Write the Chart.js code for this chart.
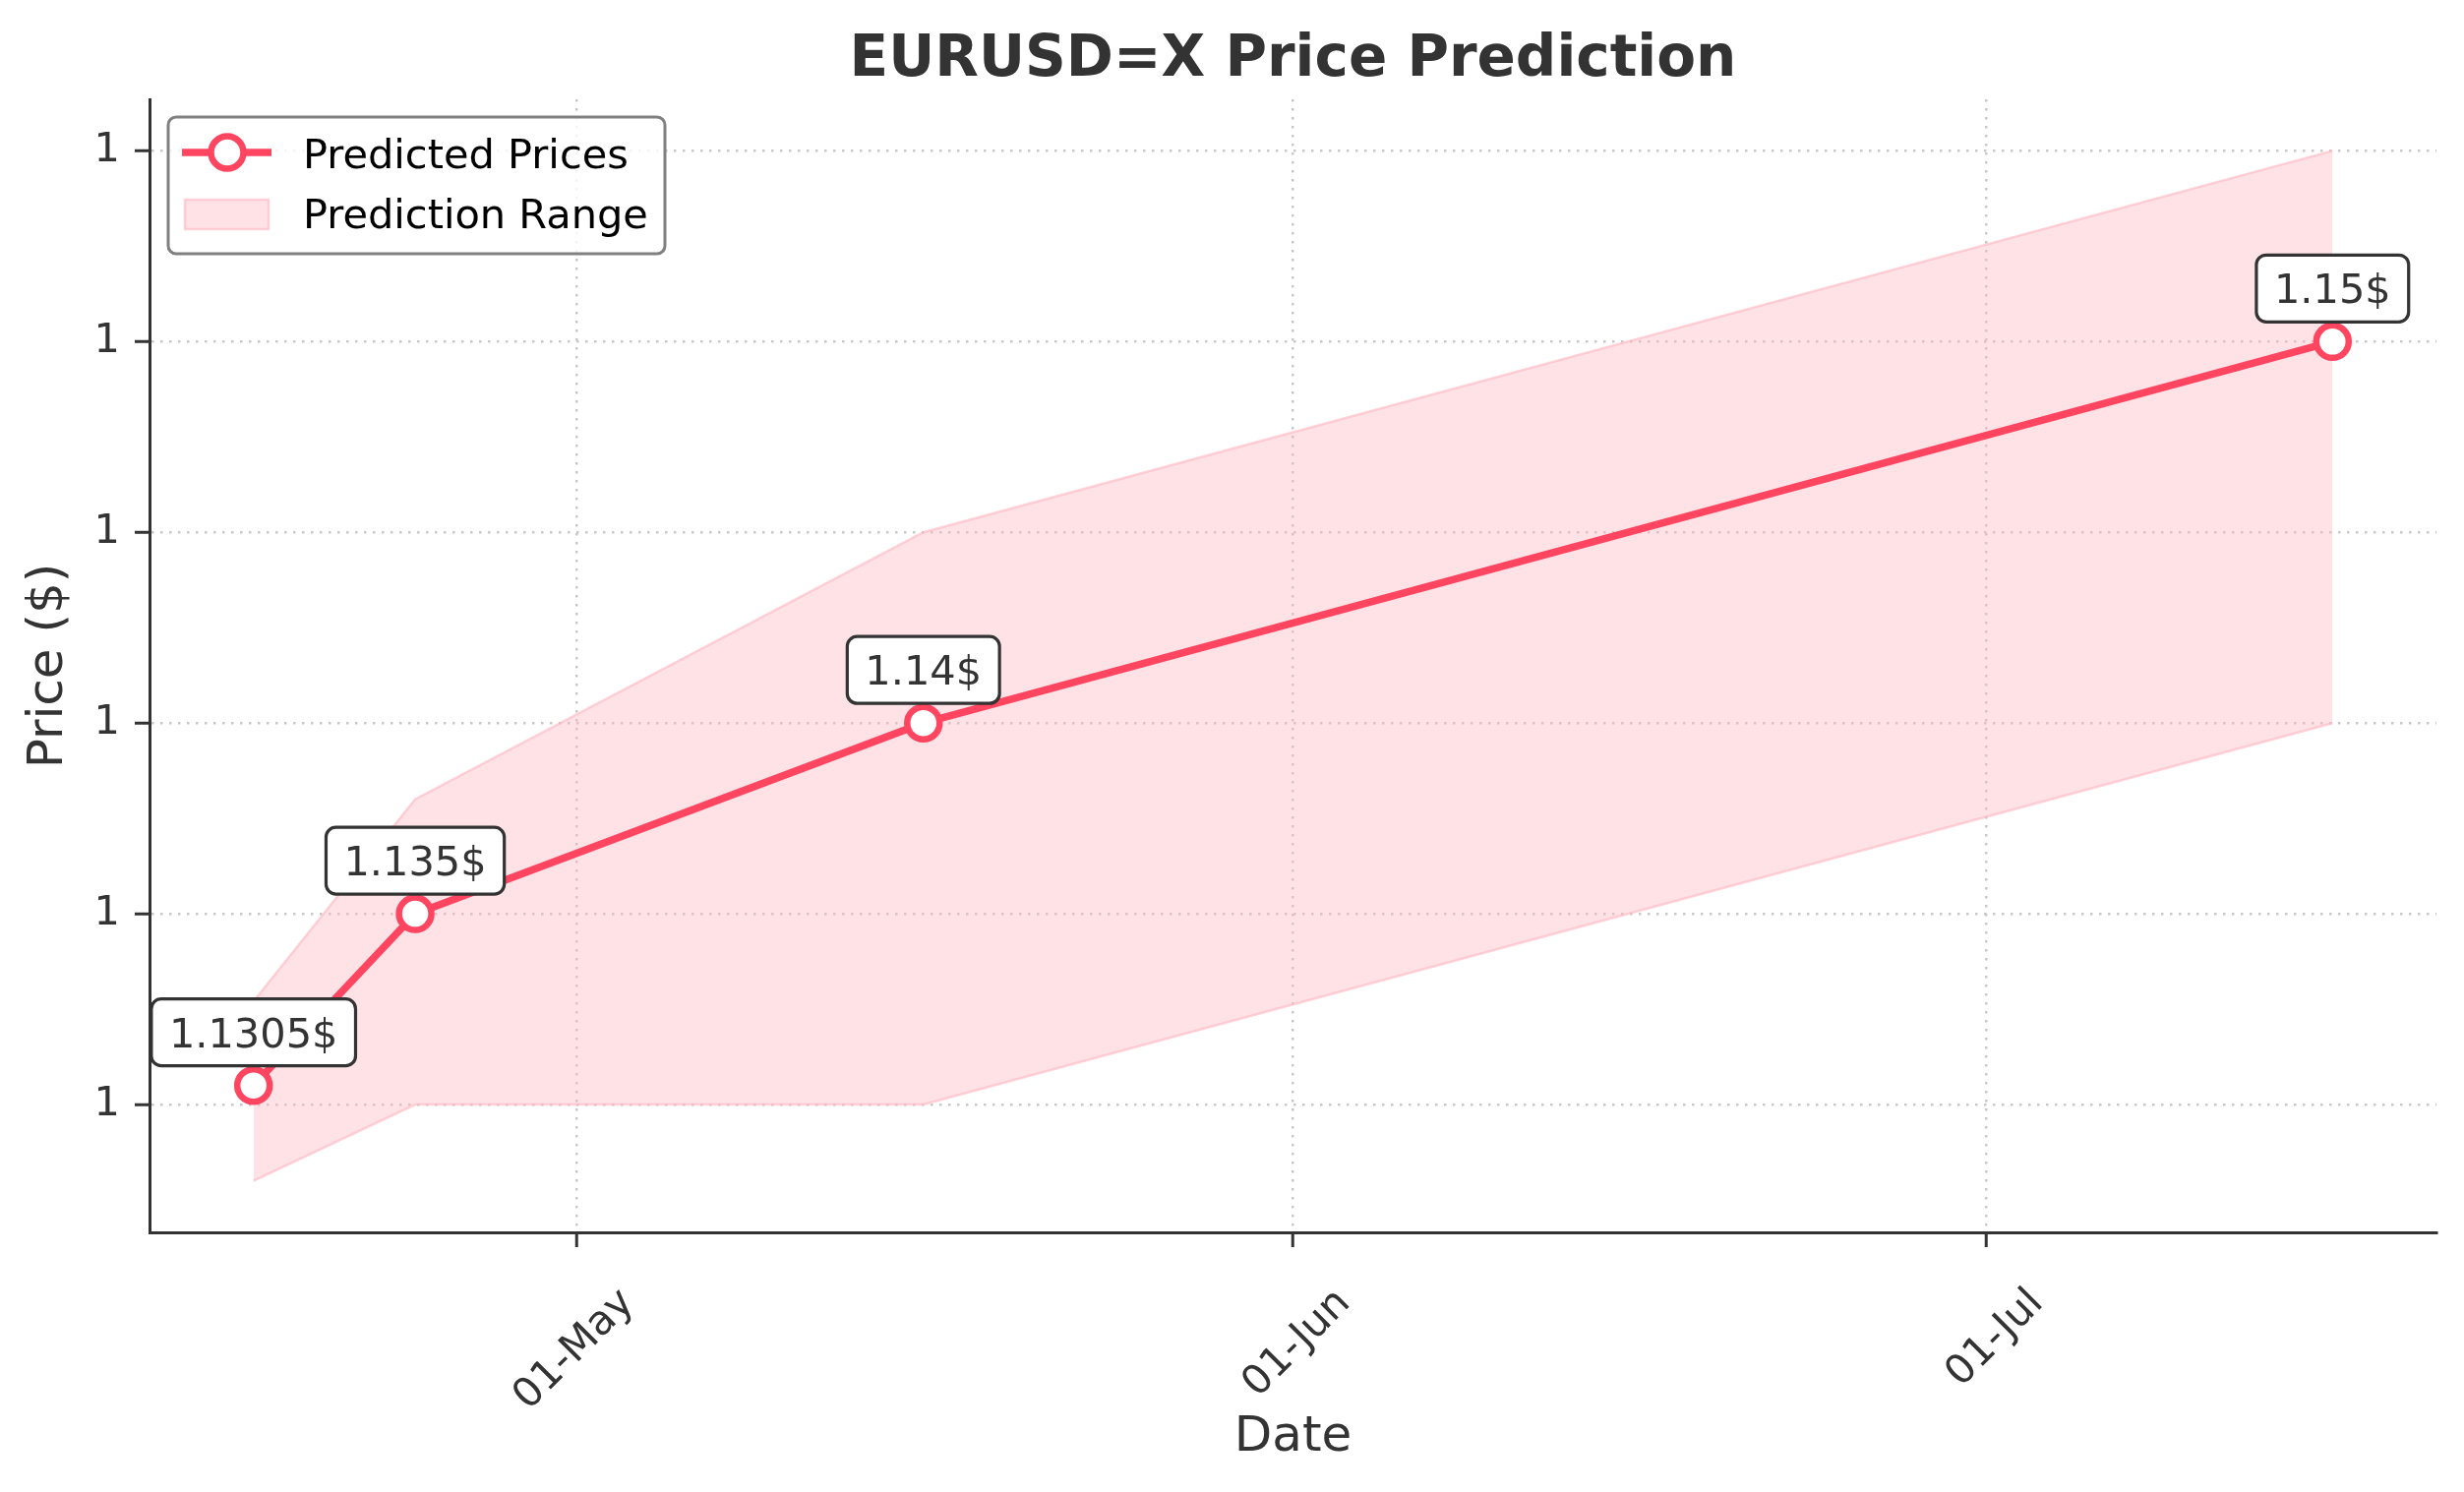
<!DOCTYPE html>
<html>
<head>
<meta charset="utf-8">
<script src="https://cdn.jsdelivr.net/npm/chart.js@4.4.0/dist/chart.umd.min.js"></script>
<style>
html,body{margin:0;padding:0;background:#fff;}
canvas{display:block;}
</style>
</head>
<body>
<canvas id="chart" width="2505" height="1517"></canvas>
<script>
// data
const dates = ["2025-04-17", "2025-04-24", "2025-05-16", "2025-07-16"];
const predicted = [1.1305, 1.135, 1.14, 1.15];
const upper = [1.1327, 1.138, 1.145, 1.155];
const lower = [1.128, 1.13, 1.13, 1.14];

const xTickDates = ["2025-05-01", "2025-06-01", "2025-07-01"];
const xTickLabels = ["01-May", "01-Jun", "01-Jul"];
const yTicks = [1.13, 1.135, 1.14, 1.145, 1.15, 1.155];
const xMin = "2025-04-12T12:00:00Z", xMax = "2025-07-20T12:00:00Z";
const yMin = 1.12665, yMax = 1.15635;

const lineColor = "#FF4560";
const rangeFill = "rgba(255,182,193,0.4)";
const rangeEdge = "rgba(255,182,193,0.6)";
const FONT = "'DejaVu Sans'";

Chart.defaults.font.family = "DejaVu Sans";

const pts = arr => arr.map((v, i) => ({x: Date.parse(dates[i]), y: v}));

const gridOpts = {color: "#c8c8c8", lineWidth: 2.5, tickColor: "#333", tickWidth: 3, tickLength: 15, tickBorderDash: []};
const borderOpts = {color: "#333", width: 3, dash: [2.5, 6.5]};

const extras = {
  id: "extras",
  afterDatasetsDraw(chart) {
    const ctx = chart.ctx;
    const meta = chart.getDatasetMeta(2);
    ctx.save();
    ctx.font = "41.5px " + FONT;
    ctx.textAlign = "center";
    ctx.textBaseline = "alphabetic";
    meta.data.forEach((pt, i) => {
      const txt = predicted[i] + "$";
      const w = ctx.measureText(txt).width + 36, h = 68;
      const cx = pt.x, cy = pt.y - 54;
      ctx.beginPath();
      ctx.roundRect(cx - w / 2, cy - h / 2, w, h, 10);
      ctx.fillStyle = "#fff";
      ctx.fill();
      ctx.lineWidth = 3.2;
      ctx.strokeStyle = "#333";
      ctx.stroke();
      ctx.fillStyle = "#333";
      ctx.fillText(txt, cx, cy + 15);
    });
    ctx.restore();
  },
  afterDraw(chart) {
    const ctx = chart.ctx, a = chart.chartArea;
    ctx.save();
    // title, centred over the axes
    ctx.font = "bold 58px " + FONT;
    ctx.fillStyle = "#333";
    ctx.textAlign = "center";
    ctx.textBaseline = "alphabetic";
    ctx.fillText("EURUSD=X Price Prediction", (a.left + a.right) / 2, 77);

    // legend box
    const L = a.left + 19, T = a.top + 18;
    ctx.beginPath();
    ctx.roundRect(L, T, 505, 139, 8);
    ctx.fillStyle = "rgba(255,255,255,0.8)";
    ctx.fill();
    ctx.strokeStyle = "#808080";
    ctx.lineWidth = 3;
    ctx.stroke();

    ctx.strokeStyle = lineColor;
    ctx.lineWidth = 7.5;
    ctx.beginPath();
    ctx.moveTo(L + 14, T + 36);
    ctx.lineTo(L + 105, T + 36);
    ctx.stroke();
    ctx.beginPath();
    ctx.arc(L + 60, T + 36, 16.5, 0, Math.PI * 2);
    ctx.fillStyle = "#fff";
    ctx.fill();
    ctx.lineWidth = 6.5;
    ctx.stroke();

    ctx.fillStyle = rangeFill;
    ctx.fillRect(L + 17, T + 84, 85, 30);
    ctx.strokeStyle = rangeEdge;
    ctx.lineWidth = 2.5;
    ctx.strokeRect(L + 17, T + 84, 85, 30);

    ctx.font = "41.5px " + FONT;
    ctx.fillStyle = "#000";
    ctx.textAlign = "left";
    ctx.fillText("Predicted Prices", L + 137, T + 52);
    ctx.fillText("Prediction Range", L + 137, T + 113);
    ctx.restore();
  }
};

new Chart(document.getElementById("chart"), {
  type: "line",
  data: {
    datasets: [
      {label: "Upper", data: pts(upper), borderColor: rangeEdge, borderWidth: 2.5, backgroundColor: rangeFill,
       fill: "+1", pointRadius: 0, tension: 0, order: 2},
      {label: "Lower", data: pts(lower), borderColor: rangeEdge, borderWidth: 2.5, backgroundColor: rangeFill,
       fill: false, pointRadius: 0, tension: 0, order: 2},
      {label: "Predicted Prices", data: pts(predicted), borderColor: lineColor, borderWidth: 7.5,
       pointRadius: 16.5, pointBorderWidth: 6.5, pointBackgroundColor: "#fff", pointBorderColor: lineColor,
       fill: false, tension: 0, order: 0}
    ]
  },
  options: {
    responsive: false,
    devicePixelRatio: 1,
    animation: false,
    layout: {padding: {top: 101, right: 28, left: 0, bottom: 0}},
    plugins: {legend: {display: false}, tooltip: {enabled: false}, title: {display: false}},
    scales: {
      x: {
        type: "linear",
        min: Date.parse(xMin), max: Date.parse(xMax),
        afterBuildTicks: s => { s.ticks = xTickDates.map(d => ({value: Date.parse(d)})); },
        afterFit: s => { s.height = 264; },
        ticks: {autoSkip: false, minRotation: 45, maxRotation: 45, padding: 33, labelOffset: 52,
                color: "#333", font: {size: 41.5}, callback: (v, i) => xTickLabels[i]},
        grid: gridOpts,
        border: borderOpts,
        title: {display: true, text: "Date", color: "#333", font: {size: 50}, padding: {top: 25, bottom: 25}}
      },
      y: {
        min: yMin, max: yMax,
        afterBuildTicks: s => { s.ticks = yTicks.map(v => ({value: v})); },
        afterFit: s => { s.width = 152; },
        ticks: {color: "#333", font: {size: 41.5}, padding: 15, callback: v => v.toFixed(0)},
        grid: gridOpts,
        border: borderOpts,
        title: {display: true, text: "Price ($)", color: "#333", font: {size: 50}, padding: {top: 20, bottom: 0}}
      }
    }
  },
  plugins: [extras]
});
</script>
</body>
</html>
